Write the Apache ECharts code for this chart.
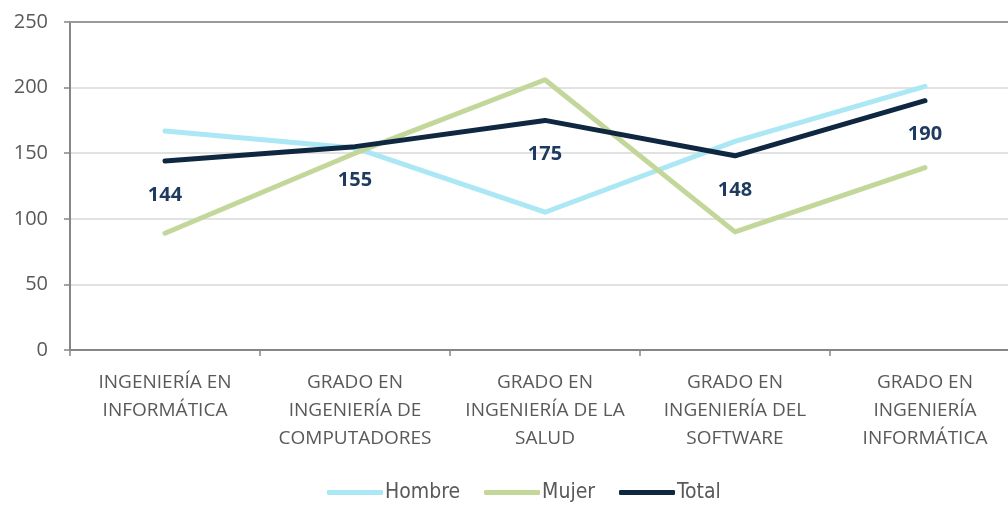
<!DOCTYPE html>
<html>
<head>
<meta charset="utf-8">
<script src="https://cdn.jsdelivr.net/npm/echarts@6/dist/echarts.min.js"></script>
<style>
  html, body { margin: 0; padding: 0; background: #fff; }
  #chart { width: 1008px; height: 505px; }
</style>
</head>
<body>
<div id="chart"></div>
<script>
  // categorías (titulaciones)
  const categories = [
    'INGENIERÍA EN\nINFORMÁTICA',
    'GRADO EN\nINGENIERÍA DE\nCOMPUTADORES',
    'GRADO EN\nINGENIERÍA DE LA\nSALUD',
    'GRADO EN\nINGENIERÍA DEL\nSOFTWARE',
    'GRADO EN\nINGENIERÍA\nINFORMÁTICA'
  ]
  const hombre = [167, 154, 105, 159, 201]
  const mujer = [89, 150, 206, 90, 139]
  const total = [144, 155, 175, 148, 190]

  const labelFont = '"Open Sans", Lato, sans-serif'

  const chart = echarts.init(document.getElementById('chart'))
  chart.setOption({
    animation: false,
    // el eje llega más allá del borde derecho, como en el original
    grid: { left: 70, width: 950, top: 22, height: 328, outerBoundsMode: 'none' },
    legend: {
      bottom: -3,
      left: 322,
      itemWidth: 56,
      itemHeight: 5,
      itemGap: 24,
      icon: 'roundRect',
      textStyle: {
        fontFamily: '"DejaVu Sans Condensed", "Liberation Sans Narrow", sans-serif',
        fontSize: 21,
        color: '#595959',
        padding: [0, 0, 0, -3]
      },
      data: ['Hombre', 'Mujer', 'Total']
    },
    xAxis: [{
      type: 'category',
      data: categories,
      boundaryGap: true,
      axisLine: { lineStyle: { color: '#868686', width: 2 } },
      axisTick: { show: true, length: 6, lineStyle: { color: '#868686', width: 1.5 } },
      axisLabel: {
        interval: 0,
        margin: 19,
        fontFamily: labelFont,
        fontSize: 19,
        lineHeight: 28,
        color: '#595959'
      }
    }, {
      type: 'category',
      data: categories,
      position: 'top',
      axisLine: { show: true, lineStyle: { color: '#9a9a9a', width: 2 } },
      axisTick: { show: false },
      axisLabel: { show: false }
    }],
    yAxis: {
      type: 'value',
      min: 0,
      max: 250,
      interval: 50,
      axisLine: { show: true, lineStyle: { color: '#868686', width: 2 } },
      axisTick: { show: true, length: 6, lineStyle: { color: '#868686', width: 1.5 } },
      splitLine: { lineStyle: { color: '#d9d9d9', width: 1.5 } },
      axisLabel: {
        margin: 22,
        fontFamily: labelFont,
        fontSize: 20,
        color: '#595959'
      }
    },
    series: [
      {
        name: 'Hombre',
        type: 'line',
        data: hombre,
        symbol: 'none',
        itemStyle: { color: '#abe7f4' },
        lineStyle: { width: 5, color: '#abe7f4', cap: 'round', join: 'round' }
      },
      {
        name: 'Mujer',
        type: 'line',
        data: mujer,
        symbol: 'none',
        itemStyle: { color: '#c4d79b' },
        lineStyle: { width: 5, color: '#c4d79b', cap: 'round', join: 'round' }
      },
      {
        name: 'Total',
        type: 'line',
        data: total,
        symbol: 'circle',
        symbolSize: 4,
        showSymbol: true,
        itemStyle: { color: '#0f2741' },
        lineStyle: { width: 5, color: '#0f2741', cap: 'round', join: 'round' },
        label: {
          show: true,
          position: 'bottom',
          distance: 22,
          fontFamily: labelFont,
          fontWeight: 'bold',
          fontSize: 20,
          color: '#1f3a5f'
        }
      }
    ]
  })
</script>
</body>
</html>
